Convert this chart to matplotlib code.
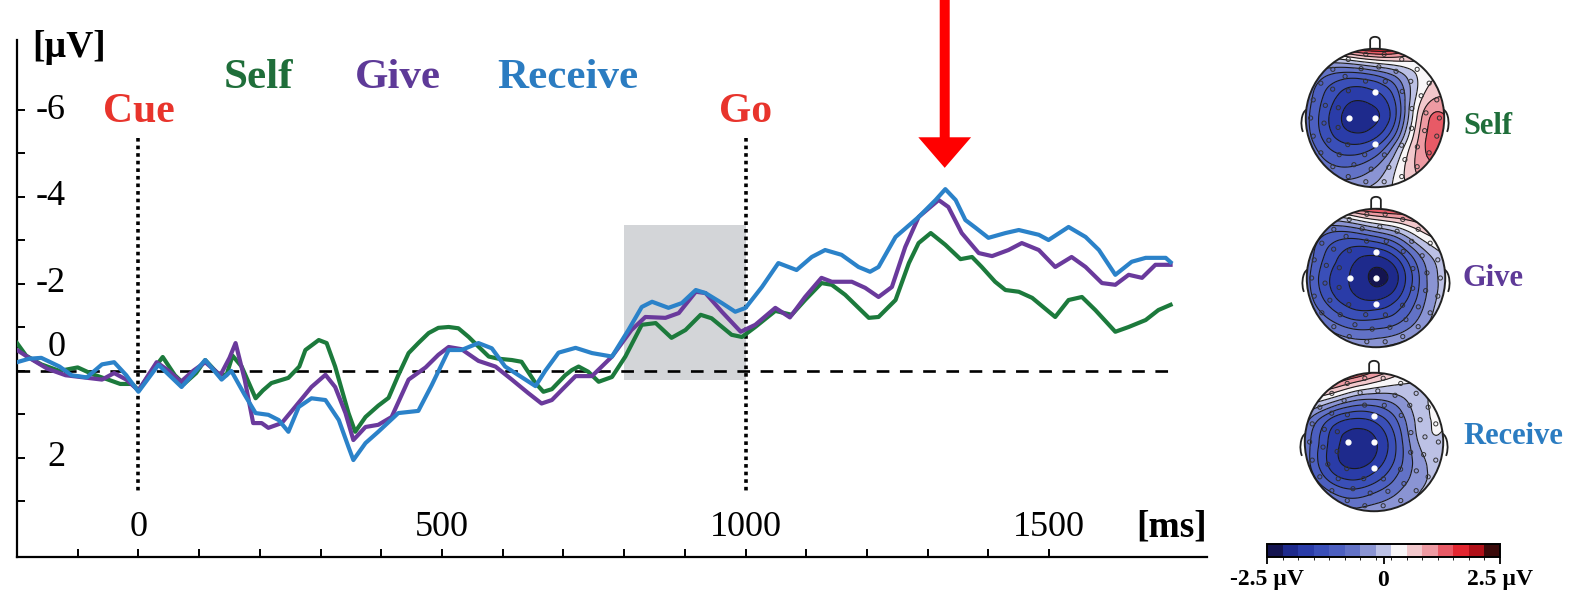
import numpy as np
import matplotlib.pyplot as plt
import matplotlib.tri as mtri
import matplotlib.transforms as mtransforms
from matplotlib import cm
from matplotlib.colors import ListedColormap, BoundaryNorm
from matplotlib.patches import Circle, Rectangle, PathPatch
from matplotlib.path import Path

plt.rcParams['font.family'] = ['Liberation Serif', 'DejaVu Serif']

# ---- ERP waveforms (ms, µV; negative is plotted upward) ----
self_t = [-200, -185, -160, -130, -100, -75, -50, -30, -10, 0, 20, 40, 60, 75, 95, 110,
          130, 145, 155, 170, 193, 205, 219, 247, 265, 275, 297, 310, 324, 346, 357, 374,
          395, 412, 428, 445, 461, 478, 494, 511, 527, 544, 560, 577, 593, 615, 631, 654,
          667, 681, 703, 714, 725, 741, 758, 780, 802, 829, 852, 878, 901, 926, 944, 977,
          994, 1016, 1049, 1076, 1098, 1125, 1142, 1164, 1203, 1219, 1247, 1269, 1285,
          1305, 1329, 1354, 1373, 1389, 1411, 1428, 1450, 1472, 1510, 1532, 1554, 1576,
          1609, 1631, 1659, 1680, 1700]
self_v = [-0.64, -0.35, -0.15, 0.0, -0.08, 0.08, 0.2, 0.3, 0.3, 0.45, 0.05, -0.32, 0.1, 0.3,
          0.05, -0.25, 0.05, 0.1, -0.35, -0.1, 0.63, 0.45, 0.28, 0.16, -0.1, -0.48, -0.71,
          -0.64, -0.1, 0.97, 1.4, 1.06, 0.8, 0.62, 0.1, -0.41, -0.64, -0.87, -0.99, -1.01,
          -0.98, -0.78, -0.56, -0.33, -0.28, -0.25, -0.21, 0.28, 0.48, 0.42, 0.1, -0.02,
          -0.1, 0.02, 0.25, 0.14, -0.33, -1.06, -1.1, -0.76, -0.94, -1.29, -1.21, -0.83,
          -0.78, -1.01, -1.38, -1.29, -1.63, -2.02, -1.98, -1.75, -1.22, -1.24, -1.63,
          -2.48, -2.94, -3.17, -2.9, -2.57, -2.62, -2.39, -2.05, -1.86, -1.82, -1.68,
          -1.24, -1.63, -1.7, -1.4, -0.9, -1.01, -1.17, -1.4, -1.52]

give_t = [-200, -180, -150, -120, -90, -60, -40, -20, 0, 30, 50, 70, 90, 110, 135, 150, 160,
          175, 189, 203, 214, 236, 258, 285, 308, 324, 341, 354, 374, 395, 417, 445, 473,
          494, 511, 532, 560, 588, 615, 642, 664, 681, 700, 720, 747, 780, 812, 835, 868,
          890, 918, 934, 961, 992, 1016, 1049, 1073, 1098, 1125, 1142, 1175, 1197, 1219,
          1241, 1263, 1285, 1318, 1334, 1356, 1384, 1406, 1433, 1455, 1483, 1510, 1537,
          1560, 1587, 1609, 1631, 1653, 1675, 1700]
give_v = [-0.48, -0.3, -0.05, 0.1, 0.15, 0.2, 0.05, 0.2, 0.45, -0.2, 0.0, 0.25, 0.0, -0.2,
          0.1, -0.3, -0.64, 0.2, 1.2, 1.2, 1.31, 1.2, 0.83, 0.37, 0.09, 0.37, 0.97, 1.59,
          1.29, 1.24, 1.06, 0.2, -0.08, -0.37, -0.55, -0.5, -0.23, -0.1, 0.2, 0.51, 0.75,
          0.67, 0.4, 0.12, 0.12, -0.33, -0.94, -1.24, -1.22, -1.33, -1.82, -1.79, -1.36,
          -0.9, -1.06, -1.45, -1.23, -1.7, -2.14, -2.05, -2.05, -1.91, -1.7, -1.93, -2.85,
          -3.54, -3.93, -3.77, -3.17, -2.71, -2.64, -2.78, -2.94, -2.78, -2.39, -2.62,
          -2.39, -2.02, -1.98, -2.21, -2.14, -2.44, -2.44]

receive_t = [-200, -180, -160, -130, -110, -85, -60, -40, -20, 0, 33, 71, 110, 137, 153,
             175, 193, 214, 231, 247, 264, 285, 308, 330, 346, 354, 374, 395, 428, 461,
             483, 511, 532, 560, 582, 604, 654, 670, 692, 720, 747, 780, 807, 829, 846,
             873, 895, 918, 934, 961, 983, 1000, 1027, 1054, 1084, 1109, 1131, 1158, 1186,
             1205, 1219, 1247, 1285, 1313, 1329, 1346, 1362, 1379, 1400, 1428, 1450, 1483,
             1499, 1532, 1560, 1582, 1609, 1636, 1659, 1692, 1700]
receive_v = [-0.2, -0.28, -0.3, -0.1, 0.1, 0.15, -0.15, -0.2, 0.1, 0.48, -0.14, 0.37, -0.25,
             0.2, 0.0, 0.55, 0.97, 1.01, 1.13, 1.4, 0.83, 0.63, 0.67, 1.13, 1.75, 2.05,
             1.66, 1.4, 0.97, 0.92, 0.33, -0.48, -0.48, -0.64, -0.52, -0.1, 0.35, 0.0,
             -0.42, -0.53, -0.41, -0.33, -0.94, -1.47, -1.59, -1.45, -1.56, -1.86, -1.79,
             -1.56, -1.36, -1.45, -1.93, -2.48, -2.32, -2.62, -2.78, -2.67, -2.39, -2.28,
             -2.39, -3.08, -3.54, -3.93, -4.18, -3.93, -3.47, -3.29, -3.06, -3.17, -3.24,
             -3.13, -3.01, -3.31, -3.08, -2.78, -2.21, -2.51, -2.6, -2.6, -2.5]

conditions = ['Self', 'Give', 'Receive']
line_colors = ['#1c7a3c', '#6a3a9c', '#2b82c9']
label_colors = ['#1f6e3a', '#5e3a98', '#2b7cc1']
events = ['Cue', 'Go']
event_times = [0, 1000]
window = (800, 1000)          # shaded analysis window, ms
window_v = (-3.36, 0.2)       # shaded window extent, µV
peak_time = 1328              # arrow marks the late negativity
x_ticks = list(range(-100, 1600, 100))
x_labels = [0, 500, 1000, 1500]
y_ticks = list(range(-6, 4))
y_labels = [-6, -4, -2, 0, 2]

# ---- scalp maps: values on a 7x7 grid, front row first ----
topo_self = [[0.4, 0.9, 1.5, 1.8, 1.6, 0.9, 0.4],
             [-0.3, -0.7, -0.8, -0.6, -0.2, 0.3, 0.5],
             [-0.6, -1.3, -1.7, -1.6, -0.9, 0.4, 0.8],
             [-0.7, -1.5, -2.0, -1.9, -1.0, 0.8, 1.2],
             [-0.6, -1.3, -1.6, -1.4, -0.4, 1.0, 1.4],
             [-0.3, -0.8, -0.9, -0.6, 0.2, 1.0, 1.1],
             [-0.1, -0.3, -0.3, -0.1, 0.3, 0.7, 0.6]]
topo_give = [[0.2, 0.6, 1.2, 1.5, 1.6, 1.4, 1.0],
             [-0.4, -0.8, -0.8, -0.5, -0.1, 0.5, 0.8],
             [-0.6, -1.3, -1.7, -1.8, -1.3, -0.4, 0.2],
             [-0.7, -1.5, -1.9, -2.25, -1.8, -0.7, 0.0],
             [-0.6, -1.3, -1.7, -1.8, -1.4, -0.6, 0.1],
             [-0.3, -0.7, -1.0, -1.0, -0.8, -0.3, 0.2],
             [0.1, 0.0, -0.2, -0.2, 0.0, 0.2, 0.3]]
topo_receive = [[1.3, 1.7, 1.6, 1.1, 0.6, 0.2, 0.0],
                [0.6, 0.4, -0.1, -0.3, -0.2, 0.1, 0.2],
                [-0.3, -1.1, -1.5, -1.4, -0.8, 0.0, 0.2],
                [-0.6, -1.5, -2.0, -1.9, -1.1, -0.1, 0.1],
                [-0.6, -1.5, -1.9, -1.7, -1.0, -0.3, 0.05],
                [-0.3, -0.9, -1.2, -1.0, -0.6, -0.2, 0.0],
                [0.0, -0.2, -0.4, -0.3, -0.2, 0.0, 0.1]]
topo_maps = [topo_self, topo_give, topo_receive]
map_colors = ['#141450', '#1e2a8c', '#2a3ca8', '#3a4fb8', '#4c5fc0', '#6272c6', '#8a94d3',
              '#bcc1e5', '#f8f6f8', '#f2c8cc', '#ee9aa2', '#e85a66', '#e22630', '#b01018',
              '#3a0a0a']
cbar_ticks = [-2.5, 0, 2.5]
cbar_labels = ['-2.5 µV', '0', '2.5 µV']

W, H = 1579, 598
fig = plt.figure(figsize=(W / 100, H / 100), dpi=100)

# ---- waveform panel ----
ax = fig.add_axes([17 / W, 41 / H, 1190 / W, 517 / H])
ax.set_xlim(-200, 1760)
ax.set_ylim(4.28, -7.61)
for s in ['top', 'right']:
    ax.spines[s].set_visible(False)
for s in ['left', 'bottom']:
    ax.spines[s].set_linewidth(1.6)
ax.set_xticks(x_ticks)
ax.set_yticks(y_ticks)
ax.set_xticklabels([])
ax.set_yticklabels([])
ax.tick_params(direction='in', length=6, width=1.4)

ax.add_patch(Rectangle((window[0], window_v[0]), window[1] - window[0],
                       window_v[1] - window_v[0], facecolor='#d3d5d8',
                       edgecolor='none', zorder=0))
ax.hlines(0, -200, 1705, colors='black', linewidth=1.9, linestyles=(0, (4.8, 4)), zorder=1)
ax.vlines(event_times, -5.36, 2.8, colors='black', linewidth=2.6,
          linestyles=(0, (1, 1.1)), zorder=1)

for t, v, c in zip([self_t, give_t, receive_t], [self_v, give_v, receive_v], line_colors):
    ax.plot(t, v, color=c, linewidth=3.0, solid_joinstyle='round', zorder=3)

# tick labels sit inside the axes
ytrans = mtransforms.blended_transform_factory(ax.transAxes, ax.transData)
for v in y_labels:
    tr = ytrans
    if v == 0:
        tr = mtransforms.offset_copy(ytrans, fig=fig, y=23, units='dots')
    ax.text(0.041, v, str(v), transform=tr, ha='right', va='center', fontsize=26)
xtrans = mtransforms.blended_transform_factory(ax.transData, ax.transAxes)
for t in x_labels:
    ax.text(t, 0.058, str(t), transform=xtrans, ha='center', va='center', fontsize=26)
ax.text(1.0, 0.058, '[ms]', transform=ax.transAxes, ha='right', va='center',
        fontsize=27, fontweight='bold')
ax.text(0.0126, 0.986, '[µV]', transform=ax.transAxes, ha='left', va='center',
        fontsize=27, fontweight='bold')

for name, t in zip(events, event_times):
    ax.text(t, -5.95, name, ha='center', va='center', fontsize=30,
            fontweight='bold', color='#e8342c')
for name, t, c in zip(conditions, [198, 428, 707], label_colors):
    ax.text(t, -6.74, name, ha='center', va='center', fontsize=31,
            fontweight='bold', color=c)

ax.annotate('', xy=(peak_time, -4.67), xytext=(peak_time, -8.6), annotation_clip=False,
            arrowprops=dict(arrowstyle='simple,head_length=2.2,head_width=3.8,tail_width=0.72',
                            mutation_scale=10, color='#ff0000', lw=0,
                            shrinkA=0, shrinkB=0))

# ---- scalp maps ----
cmap = ListedColormap(map_colors)
levels = np.linspace(-2.5, 2.5, len(map_colors) + 1)
norm = BoundaryNorm(levels, cmap.N)
cmap.set_under(map_colors[0])
cmap.set_over(map_colors[-1])

g = np.linspace(-1, 1, 7)
gx, gy = np.meshgrid(g, g[::-1])
tri = mtri.Triangulation(gx.ravel(), gy.ravel())
refiner = mtri.UniformTriRefiner(tri)

ring_pos = []
for r, n, off in [(0.93, 22, 0.0), (0.74, 18, 0.1), (0.55, 12, 0.25)]:
    a = np.linspace(0, 2 * np.pi, n, endpoint=False) + off
    ring_pos.append(np.c_[r * np.cos(a), r * np.sin(a)])
ring_pos = np.vstack(ring_pos)
white_pos = np.array([[0, 0.37], [-0.38, 0], [0, 0], [0, -0.37]])

nose = Path([(-0.07, 0.99), (-0.07, 1.12), (-0.07, 1.19), (0.07, 1.19), (0.07, 1.12),
             (0.07, 0.99)],
            [Path.MOVETO, Path.LINETO, Path.CURVE4, Path.CURVE4, Path.CURVE4, Path.LINETO])

centers = [(1375, 118), (1376, 278), (1374, 442)]
label_y = [127, 279, 437]
size = 180
for vals, (cx, cy), ly, name, c in zip(topo_maps, centers, label_y, conditions, label_colors):
    hax = fig.add_axes([(cx - size / 2) / W, (H - cy - size / 2) / H, size / W, size / H])
    hax.set_xlim(-1.3, 1.3)
    hax.set_ylim(-1.3, 1.3)
    hax.axis('off')
    z = np.array(vals, dtype=float).ravel()
    interp = mtri.CubicTriInterpolator(tri, z)
    tri_f, z_f = refiner.refine_field(z, triinterpolator=interp, subdiv=4)
    clip = Circle((0, 0), 1, transform=hax.transData)
    cf = hax.tricontourf(tri_f, z_f, levels=levels, cmap=cmap, norm=norm, extend='both')
    cf.set_clip_path(clip)
    cl = hax.tricontour(tri_f, z_f, levels=levels, colors='#1a1a1a', linewidths=0.8,
                        linestyles='solid')
    cl.set_clip_path(clip)
    hax.add_patch(Circle((0, 0), 1, fill=False, edgecolor='#222222', linewidth=1.4))
    hax.add_patch(PathPatch(nose, fill=False, edgecolor='#222222', linewidth=1.3))
    for sx in (-1, 1):
        ear = Path([(sx * 0.99, 0.12), (sx * 1.07, 0.08), (sx * 1.08, -0.12),
                    (sx * 1.04, -0.2)],
                   [Path.MOVETO, Path.CURVE4, Path.CURVE4, Path.CURVE4])
        hax.add_patch(PathPatch(ear, fill=False, edgecolor='#222222', linewidth=1.3))
    hax.scatter(ring_pos[:, 0], ring_pos[:, 1], s=9, facecolors='none',
                edgecolors='#333333', linewidths=0.7, zorder=4)
    hax.scatter(white_pos[:, 0], white_pos[:, 1], s=12, color='white', zorder=5)
    fig.text(1463 / W, 1 - ly / H, name, ha='left', va='center', fontsize=22,
             fontweight='bold', color=c)

# ---- colour scale ----
cax = fig.add_axes([1267 / W, 41 / H, 233 / W, 13 / H])
cb = fig.colorbar(cm.ScalarMappable(norm=norm, cmap=cmap), cax=cax,
                  orientation='horizontal', ticks=cbar_ticks)
cb.set_ticklabels(cbar_labels)
cb.outline.set_linewidth(1.4)
cax.tick_params(length=5, width=1.3, labelsize=17, pad=4)
for lab in cax.get_xticklabels():
    lab.set_fontweight('bold')

fig.savefig('out.png', dpi=100)
